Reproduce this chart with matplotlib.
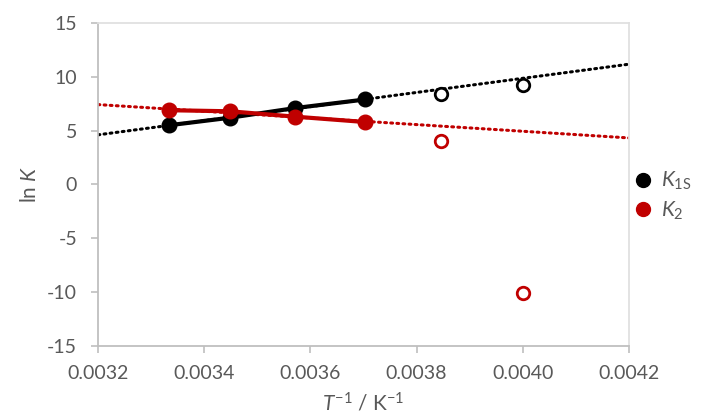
import matplotlib.pyplot as plt
import numpy as np

plt.rcParams['font.family'] = ['Lato', 'DejaVu Sans']
plt.rcParams['mathtext.fontset'] = 'custom'
plt.rcParams['mathtext.rm'] = 'Lato'
plt.rcParams['mathtext.it'] = 'Lato:italic'
plt.rcParams['axes.unicode_minus'] = False

# temperaturas (K) -> T^-1
temp_fit = [300, 290, 280, 270]
temp_open = [260, 250]

k1s_fit = [5.5, 6.2, 7.1, 7.9]
k1s_open = [8.4, 9.2]
k2_fit = [6.9, 6.8, 6.3, 5.8]
k2_open = [4.0, -10.1]

BLACK = '#000000'
RED = '#c00000'
GRAY = '#595959'

x_fit = 1 / np.array(temp_fit)
x_open = 1 / np.array(temp_open)
x_line = np.array([0.0032, 0.0042])

fig = plt.figure(figsize=(7.01, 4.17), dpi=100)
ax = fig.add_axes([98 / 701, 1 - 346 / 417, (629 - 98) / 701, (346 - 23) / 417])

for yfit, yopen, cor in [(k1s_fit, k1s_open, BLACK), (k2_fit, k2_open, RED)]:
    a, b = np.polyfit(x_fit, yfit, 1)
    ax.plot(x_line, a * x_line + b, linestyle=(0, (0.6, 1.4)), color=cor,
            lw=2.2, dash_capstyle='round', zorder=1)
    ax.plot(x_fit, yfit, '-', color=cor, lw=3, zorder=2)
    ax.plot(x_fit, yfit, 'o', color=cor, ms=10.5, zorder=3)
    ax.plot(x_open, yopen, 'o', mfc='white', mec=cor, mew=2, ms=9, zorder=3)

ax.set_xlim(0.0032, 0.0042)
ax.set_ylim(-15, 15)
ax.set_xticks(np.arange(0.0032, 0.00421, 0.0002))
ax.set_xticklabels(['0.0032', '0.0034', '0.0036', '0.0038', '0.0040', '0.0042'])
ax.set_yticks(range(-15, 16, 5))

ax.tick_params(colors='#bfbfbf', labelcolor=GRAY, labelsize=14, width=1.2, length=5)
ax.tick_params(axis='x', pad=9)
ax.tick_params(axis='y', pad=10)
for lado in ['left', 'bottom']:
    ax.spines[lado].set_color('#bfbfbf')
    ax.spines[lado].set_linewidth(1.3)
for lado in ['top', 'right']:
    ax.spines[lado].set_color('#e0e0e0')
    ax.spines[lado].set_linewidth(1.3)

ax.set_xlabel(r'$\mathit{T}^{\mathrm{-1}}$ / K$^{\mathrm{-1}}$', color=GRAY, fontsize=15, labelpad=7)
ax.set_ylabel(r'ln $\mathit{K}$', color=GRAY, fontsize=15, labelpad=5)

h1, = ax.plot([], [], 'o', color=BLACK, ms=10)
h2, = ax.plot([], [], 'o', color=RED, ms=10)
fig.legend([h1, h2], [r'$\mathit{K}_{\mathrm{1S}}$', r'$\mathit{K}_{\mathrm{2}}$'],
           loc='center left', bbox_to_anchor=(633 / 701, 0.53), frameon=False,
           fontsize=15, labelcolor=GRAY, handletextpad=0.35, labelspacing=0.35,
           handlelength=1.0, borderpad=0, borderaxespad=0)

fig.savefig('out.png', dpi=100)
